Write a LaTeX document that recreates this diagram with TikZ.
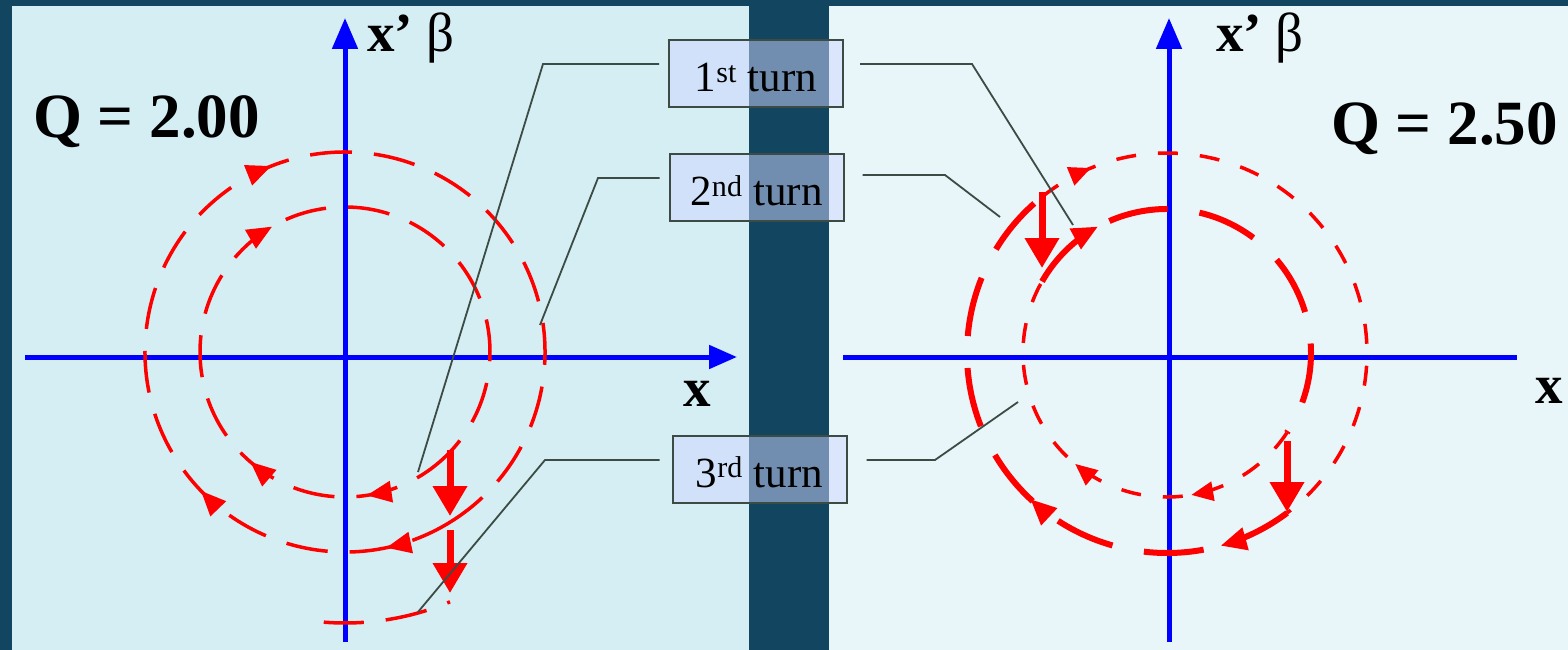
\documentclass[tikz,border=0pt]{standalone}
\usepackage{fontspec}
\setmainfont{Liberation Serif}
\usetikzlibrary{arrows.meta,decorations.markings}
\definecolor{bgdark}{RGB}{18,70,96}
\definecolor{panelL}{RGB}{212,238,243}
\definecolor{panelR}{RGB}{232,246,250}
\definecolor{boxfill}{RGB}{208,213,255}
\definecolor{conncol}{RGB}{60,76,68}
\tikzset{
  axisline/.style={blue, line width=5pt},
  axtipv/.style={-{Triangle[length=31pt,width=25pt]}},
  axtiph/.style={-{Triangle[length=28pt,width=23pt]}},
  lcirc/.style={red, line width=3.5pt, dash pattern=on 42pt off 22pt},
  rthin/.style={red, line width=3.5pt, dash pattern=on 20pt off 22pt},
  rthick/.style={red, line width=6pt, dash pattern=on 60pt off 32pt},
  kick/.style={red, line width=7pt, -{Triangle[length=30pt,width=33pt]}},
  conn/.style={conncol, line width=1.8pt},
  turnbox/.style={draw=conncol, line width=2pt, fill=boxfill, fill opacity=0.5, text opacity=1,
    minimum width=174pt, minimum height=67pt, inner sep=0pt, text height=36pt, text depth=0pt,
    font=\fontsize{43}{48}\selectfont},
  qlab/.style={font=\fontsize{63}{70}\selectfont\bfseries, inner sep=0pt},
  alab/.style={font=\fontsize{55}{60}\selectfont\bfseries, inner sep=0pt},
  marks/.style={postaction={decorate}, decoration={markings, #1}}
}
\begin{document}
\begin{tikzpicture}[x=1pt,y=-1pt]
\useasboundingbox (0,0) rectangle (1568,650);
\fill[bgdark] (0,0) rectangle (1568,650);
\fill[panelL] (12,6) rectangle (749,650);
\fill[panelR] (829,6) rectangle (1568,650);

% ---------- left panel ----------
\coordinate (CL) at (345,352);
\coordinate (LvB) at (345,642);
\coordinate (LvT) at (345,18);
\coordinate (LhL) at (25,357);
\coordinate (LhR) at (737,357);
\draw[axisline,axtipv] (LvB) -- (LvT);
\draw[axisline,axtiph] (LhL) -- (LhR);

\draw[lcirc, marks={mark=at position 0.105 with {\arrow{Triangle[length=25pt,width=21pt]}},
                    mark=at position 0.242 with {\arrow{Triangle[length=25pt,width=21pt]}},
                    mark=at position 0.545 with {\arrow{Triangle[length=25pt,width=21pt]}}}]
  (CL) ++(43.6:145) arc[start angle=43.6, end angle=403.6, radius=145];
\draw[lcirc, marks={mark=at position 0.055 with {\arrow{Triangle[length=25pt,width=21pt]}},
                    mark=at position 0.216 with {\arrow{Triangle[length=25pt,width=21pt]}},
                    mark=at position 0.528 with {\arrow{Triangle[length=25pt,width=21pt]}}}]
  (CL) ++(58.3:200) arc[start angle=58.3, end angle=418.3, radius=200];
\draw[lcirc, dash phase=39pt]
  (CL) ++(67.2:271) arc[start angle=67.2, end angle=94.5, radius=271];

\coordinate (K1s) at (450,450);
\coordinate (K1e) at (450,516);
\coordinate (K2s) at (450,530);
\coordinate (K2e) at (450,593);
\draw[kick] (K1s) -- (K1e);
\draw[kick] (K2s) -- (K2e);

\node[qlab, anchor=base west] (qL) at (33,137) {Q = 2.00};
\node[alab, anchor=base west] (xpL) at (367,52) {x’ \textnormal{β}};
\node[alab] (xL) at (697,394) {x};

% ---------- right panel ----------
\coordinate (CR) at (1167,353);
\coordinate (RvB) at (1169,642);
\coordinate (RvT) at (1169,18);
\coordinate (RhL) at (843,357);
\coordinate (RhR) at (1517,357);
\draw[axisline,axtipv] (RvB) -- (RvT);
\draw[axisline] (RhL) -- (RhR);

% thin: first half on r=200, then r=144
\draw[rthin, marks={mark=at position 0.09 with {\arrow{Triangle[length=22pt,width=19pt]}}}]
  (CR) ++(231.3:200) arc[start angle=231.3, end angle=413.1, radius=200];
\draw[rthin, marks={mark=at position 0.265 with {\arrow{Triangle[length=22pt,width=19pt]}},
                    mark=at position 0.545 with {\arrow{Triangle[length=22pt,width=19pt]}}}]
  (CR) ++(33.6:144) arc[start angle=33.6, end angle=209.8, radius=144];
% thick
\draw[rthick, marks={mark=at position 0.172 with {\arrow{Triangle[length=26pt,width=22pt]}}}]
  (CR) ++(209.8:144) arc[start angle=209.8, end angle=393.6, radius=144];
\draw[rthick, marks={mark=at position 0.12 with {\arrow{Triangle[length=26pt,width=22pt]}},
                     mark=at position 0.449 with {\arrow{Triangle[length=26pt,width=22pt]}}}]
  (CR) ++(53.1:200) arc[start angle=53.1, end angle=231.3, radius=200];

\coordinate (K3s) at (1042,192);
\coordinate (K3e) at (1042,268);
\coordinate (K4s) at (1287,441);
\coordinate (K4e) at (1287,512);
\draw[kick] (K3s) -- (K3e);
\draw[kick] (K4s) -- (K4e);

\node[qlab, anchor=base west] (qR) at (1331,145) {Q = 2.50};
\node[alab, anchor=base west] (xpR) at (1216,52) {x’ \textnormal{β}};
\node[alab] (xR) at (1549,391) {x};

% ---------- labels ----------
\node[turnbox] (b1) at (756,73.5) {1\textsuperscript{st} turn};
\node[turnbox] (b2) at (756.5,187.5) {2\textsuperscript{nd} turn};
\node[turnbox] (b3) at (759.5,469) {3\textsuperscript{rd} turn};

\coordinate (e1L) at (418,472);
\coordinate (e2L) at (540,325);
\coordinate (e3L) at (418,612);
\coordinate (e1R) at (1073,225);
\coordinate (e2R) at (1000,217);
\coordinate (e3R) at (1018,402);
\draw[conn] ([xshift=-9pt,yshift=9.5pt]b1.west) -- (543,64) -- (e1L);
\draw[conn] ([xshift=-9pt,yshift=9.5pt]b2.west) -- (598,178) -- (e2L);
\draw[conn] ([xshift=-12pt,yshift=9pt]b3.west) -- (545,460) -- (e3L);
\draw[conn] ([xshift=16pt,yshift=9.5pt]b1.east) -- (972,64) -- (e1R);
\draw[conn] ([xshift=18pt,yshift=12.5pt]b2.east) -- (945,175) -- (e2R);
\draw[conn] ([xshift=19pt,yshift=9pt]b3.east) -- (935,460) -- (e3R);
\end{tikzpicture}
\end{document}
